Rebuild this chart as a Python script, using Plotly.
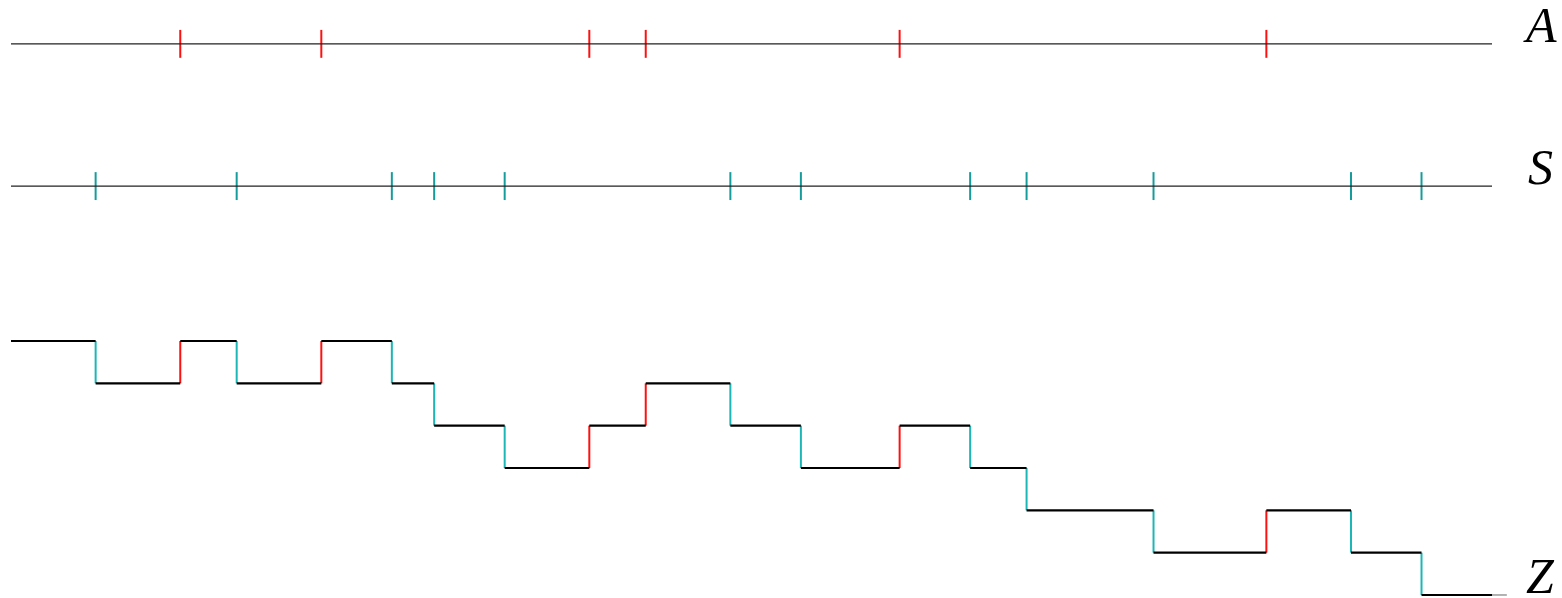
import plotly.graph_objects as go

# Event times (integer time units)
arrival_times = [12, 22, 41, 45, 63, 89]
service_times = [6, 16, 27, 30, 35, 51, 56, 68, 72, 81, 95, 100]
t_end = 105
z_start = 0

# Row placement on the shared y axis
y_A = 7.02
y_S = 3.66
tick_half = 0.33

RED = "#FF1010"
TEAL_TICK = "#179C9C"
TEAL_STEP = "#1BB6B6"
AXIS = "#222222"

fig = go.Figure()


def tick_trace(times, base, color):
    xs, ys = [], []
    for t in times:
        xs += [t, t, None]
        ys += [base - tick_half, base + tick_half, None]
    return go.Scatter(x=xs, y=ys, mode="lines", line=dict(color=color, width=2),
                      hoverinfo="skip", showlegend=False)


# Arrival process A
fig.add_trace(tick_trace(arrival_times, y_A, RED))
fig.add_trace(go.Scatter(x=[0, t_end], y=[y_A, y_A], mode="lines",
                         line=dict(color=AXIS, width=1.4), showlegend=False))

# Service process S
fig.add_trace(tick_trace(service_times, y_S, TEAL_TICK))
fig.add_trace(go.Scatter(x=[0, t_end], y=[y_S, y_S], mode="lines",
                         line=dict(color=AXIS, width=1.4), showlegend=False))

# Z = A - S as a step path
events = sorted([(t, +1) for t in arrival_times] + [(t, -1) for t in service_times])
level = z_start
hx, hy = [], []
vx_up, vy_up, vx_dn, vy_dn = [], [], [], []
prev_t = 0
for t, d in events:
    hx += [prev_t, t, None]
    hy += [level, level, None]
    new = level + d
    if d > 0:
        vx_up += [t, t, None]
        vy_up += [level, new, None]
    else:
        vx_dn += [t, t, None]
        vy_dn += [level, new, None]
    level = new
    prev_t = t
hx += [prev_t, t_end]
hy += [level, level]

fig.add_trace(go.Scatter(x=[t_end, t_end + 1.05], y=[level, level], mode="lines",
                         line=dict(color="#666666", width=1), showlegend=False))
fig.add_trace(go.Scatter(x=vx_up, y=vy_up, mode="lines",
                         line=dict(color=RED, width=2), showlegend=False))
fig.add_trace(go.Scatter(x=vx_dn, y=vy_dn, mode="lines",
                         line=dict(color=TEAL_STEP, width=2), showlegend=False))
fig.add_trace(go.Scatter(x=hx, y=hy, mode="lines",
                         line=dict(color="black", width=2.2), showlegend=False))

label_font = dict(family="Liberation Serif", size=50, color="black")
for txt, yy in [("A", y_A), ("S", y_S), ("Z", level)]:
    fig.add_annotation(x=108.4, y=yy, xref="x", yref="y", text=f"<i>{txt}</i>",
                       showarrow=False, xanchor="center", yanchor="bottom",
                       yshift=-11, font=label_font)

fig.update_layout(
    width=1562, height=598,
    margin=dict(l=0, r=0, t=0, b=0),
    paper_bgcolor="white", plot_bgcolor="white",
    xaxis=dict(range=[-0.78, 109.96], visible=False, fixedrange=True),
    yaxis=dict(range=[-6.071, 8.056], visible=False, fixedrange=True),
)

fig.write_html("out.html")
